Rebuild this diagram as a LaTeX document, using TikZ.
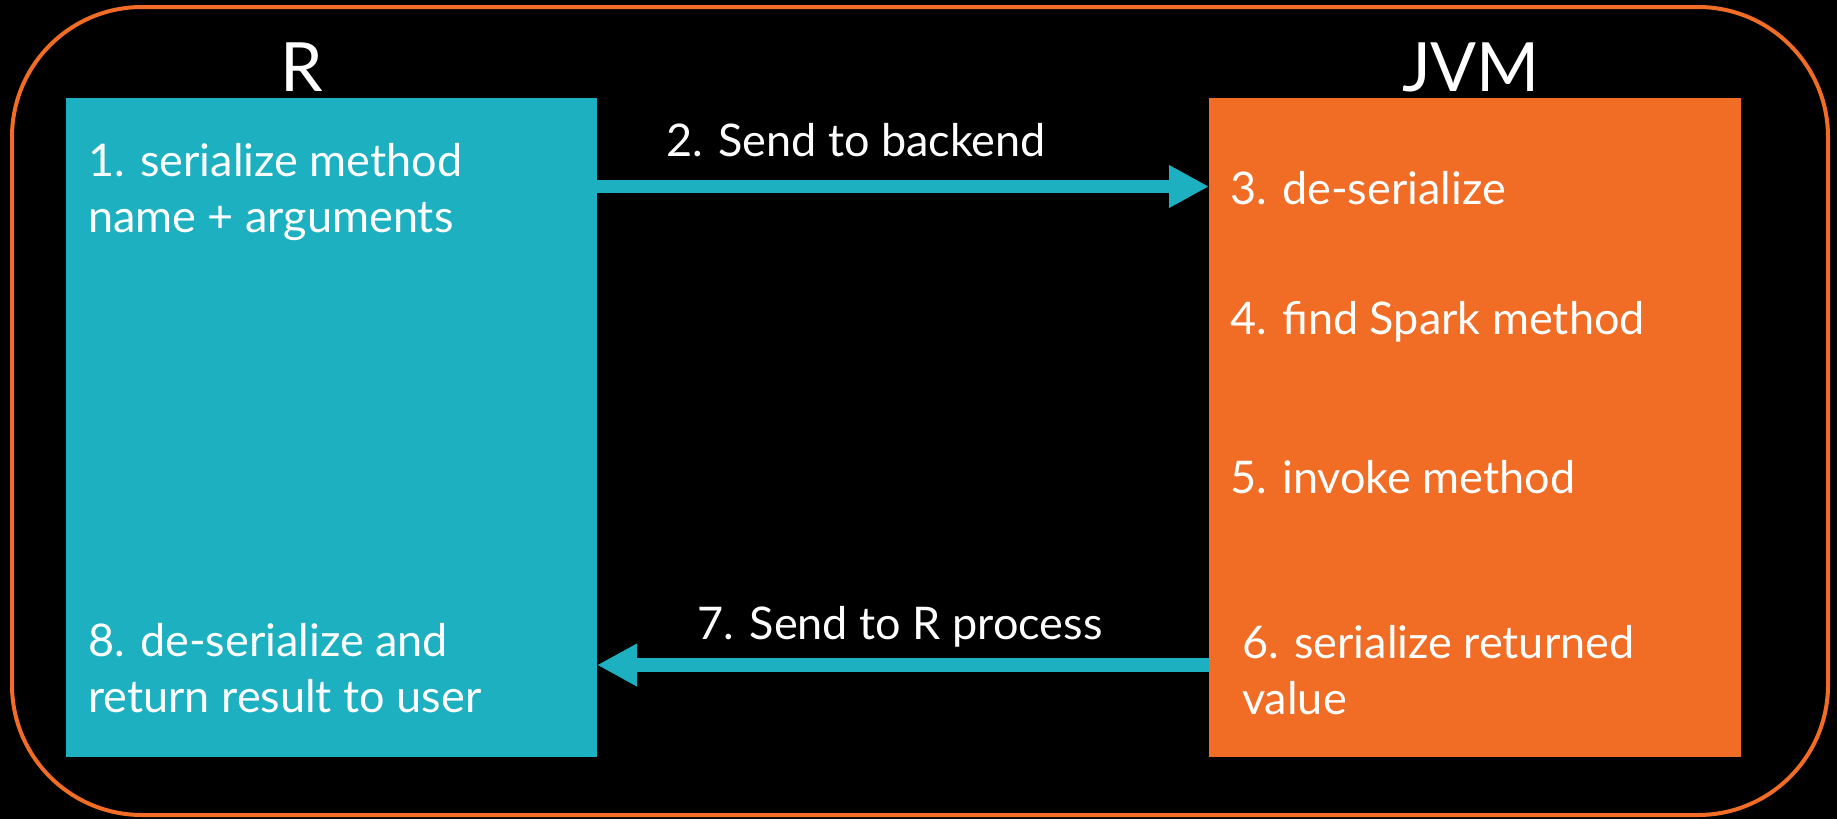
\documentclass[tikz,border=0pt]{standalone}
\usepackage{fontspec}
\setmainfont{Lato}
\usetikzlibrary{arrows.meta}
\definecolor{teal}{RGB}{28,176,192}
\definecolor{orng}{RGB}{241,108,36}
\tikzset{
  panel/.style={inner sep=0pt, outer sep=0pt, minimum width=675pt, minimum height=659pt, anchor=north west},
  lbl/.style={text=white, font=\fontsize{45}{56}\selectfont, inner sep=0pt, align=left},
  ttl/.style={text=white, font=\fontsize{68}{80}\selectfont, inner sep=0pt},
  arr/.style={teal, line width=13.5pt, -{Triangle[length=40pt,width=40pt]}}
}
\begin{document}
\begin{tikzpicture}[x=1pt,y=-1pt]
\fill[black] (0,0) rectangle (1837,819);
\useasboundingbox (0,0) rectangle (1837,819);
\draw[orng, line width=4pt, rounded corners=130pt] (12,7) rectangle (1828,815);
\node[panel, fill=teal, minimum width=531pt] (rbox) at (66,98) {};
\node[panel, fill=orng, minimum width=532pt] (jbox) at (1209,98) {};
\node[ttl] (rt) at (302,67) {R};
\node[ttl] (jt) at (1471,67) {JVM};
\node[lbl, anchor=base west] (t1) at (88,232) {1. serialize method\\name + arguments};
\node[lbl, anchor=base west] (t8) at (88,712) {8. de-serialize and\\return result to user};
\node[lbl, anchor=base west] (t3) at (1230,204) {3. de-serialize};
\node[lbl, anchor=base west] (t4) at (1230,334) {4. find Spark method};
\node[lbl, anchor=base west] (t5) at (1230,493) {5. invoke method};
\node[lbl, anchor=base west] (t6) at (1242,714) {6. serialize returned\\value};
\node[lbl, anchor=base] (t2) at (856,156) {2. Send to backend};
\node[lbl, anchor=base] (t7) at (900,639) {7. Send to R process};
\draw[arr] (rbox.east |- 0,186.5) -- (jbox.west |- 0,186.5);
\draw[arr] (jbox.west |- 0,665) -- (rbox.east |- 0,665);
\end{tikzpicture}
\end{document}
